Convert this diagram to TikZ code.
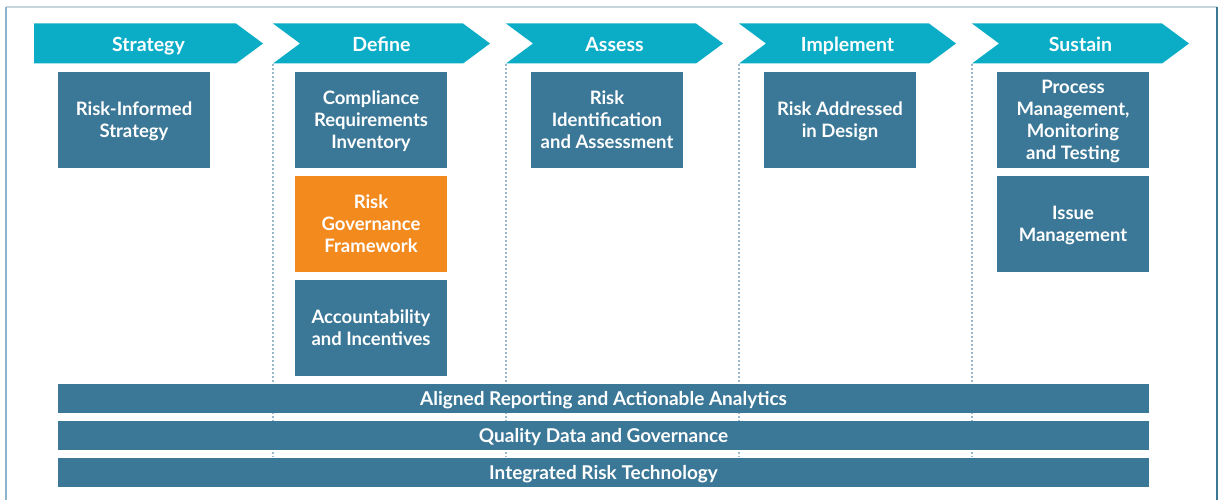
\documentclass[tikz,border=0pt]{standalone}
\usepackage{fontspec}
\setmainfont{Lato}
\definecolor{teal}{HTML}{0BADC6}
\definecolor{boxblue}{HTML}{3B7796}
\definecolor{orng}{HTML}{F28A1E}
\definecolor{dotc}{HTML}{9BB8CA}
\definecolor{frameL}{HTML}{8DB6CE}
\definecolor{frameT}{HTML}{C5D3DC}
\begin{document}
\begin{tikzpicture}[x=1pt,y=-1pt,
  chev/.style={fill=teal,draw=none},
  chevtext/.style={text=white,text height=14pt,text depth=4pt,inner sep=0pt,font=\fontsize{19.5}{22}\selectfont\bfseries},
  cell/.style={fill=boxblue,draw=none,minimum width=152pt,minimum height=96pt,inner sep=0pt,text=white,align=center,text depth=0pt,font=\fontsize{18.5}{22}\selectfont\bfseries},
  bar/.style={fill=boxblue,draw=none,minimum width=1091pt,minimum height=29pt,inner sep=0pt,text=white,text depth=0pt,font=\fontsize{19}{20}\selectfont\bfseries},
  sep/.style={draw=dotc,line width=1.3pt,dash pattern=on 2pt off 2pt}]
\useasboundingbox (0,0) rectangle (1222,500);
\fill[white] (0,0) rectangle (1222,500);
% frame
\draw[frameT,line width=1.2pt] (6,7) -- (1217,7);
\draw[frameL,line width=1.5pt] (6,7) -- (6,500);
\draw[boxblue,line width=1.5pt] (1217,7) -- (1217,500);
% dotted separators
\foreach \s/\n in {273/a,506/b,739/c,972/d}{
  \coordinate (top\n) at (\s,64);
  \coordinate (bot\n) at (\s,457);
  \draw[sep] (top\n) -- (bot\n);
}
% chevrons
\fill[chev] (34,23.5) -- (236,23.5) -- (263,43.5) -- (236,63.5) -- (34,63.5) -- cycle;
\node[chevtext] (cStrategy) at (148.5,47) {Strategy};
\foreach \s/\t/\n in {273/Define/cDefine,506/Assess/cAssess,739/Implement/cImplement,972/Sustain/cSustain}{
  \fill[chev] (\s,23.5) -- (\s+190,23.5) -- (\s+217,43.5) -- (\s+190,63.5) -- (\s,63.5) -- (\s+27,43.5) -- cycle;
  \node[chevtext] (\n) at (\s+108.5,47) {\t};
}
% boxes
\node[cell] (rs) at (134,120) {Risk-Informed\\Strategy};
\node[cell] (cri) at (371,120) {Compliance\\Requirements\\Inventory};
\node[cell,fill=orng] (rgf) at (371,224) {Risk\\Governance\\Framework};
\node[cell] (ai) at (371,328) {Accountability\\and Incentives};
\node[cell] (ria) at (607,120) {Risk\\Identification\\and Assessment};
\node[cell] (rad) at (840,120) {Risk Addressed\\in Design};
\node[cell] (pm) at (1073,120) {Process\\Management,\\Monitoring\\and Testing};
\node[cell] (im) at (1073,224) {Issue\\Management};
% bars
\node[bar] (b1) at (603.5,398.5) {Aligned Reporting and Actionable Analytics};
\node[bar] (b2) at (603.5,435.5) {Quality Data and Governance};
\node[bar] (b3) at (603.5,472.5) {Integrated Risk Technology};
\end{tikzpicture}
\end{document}
